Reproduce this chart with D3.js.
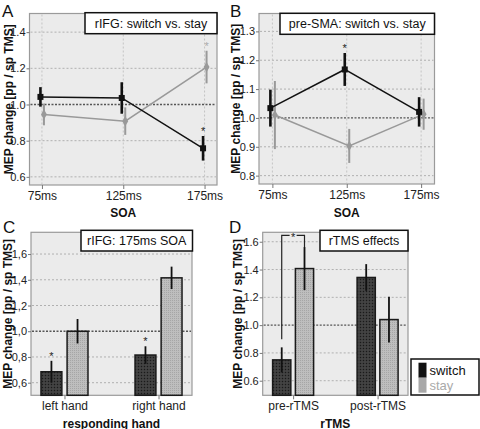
<!DOCTYPE html>
<html><head><meta charset="utf-8">
<script src="https://cdn.jsdelivr.net/npm/d3@7"></script>
<style>body{margin:0;background:#fff}svg{display:block;font-family:"Liberation Sans",Arial,sans-serif}</style>
</head><body><svg id="c" width="480" height="429"></svg>
<script>
// ---- data ----
const soaCats = ["75ms","125ms","175ms"];
const aSwitch = [1.042,1.036,0.758];
const aSwitchErr = [0.054,0.087,0.068];
const aStay = [0.945,0.908,1.207];
const aStayErr = [0.060,0.076,0.090];
const aTicks = [0.6,0.8,1.0,1.2,1.4];
const bSwitch = [1.034,1.168,1.021];
const bSwitchErr = [0.064,0.057,0.051];
const bStay = [1.010,0.903,1.013];
const bStayErr = [0.118,0.059,0.054];
const bTicks = [0.8,0.9,1.0,1.1,1.2,1.3];
const handCats = ["left hand","right hand"];
const cSwitch = [0.685,0.815];
const cSwitchErr = [0.085,0.068];
const cStay = [1.0,1.415];
const cStayErr = [0.095,0.087];
const cTicks = [0.6,0.8,1.0,1.2,1.4,1.6];
const rtmsCats = ["pre-rTMS","post-rTMS"];
const dSwitch = [0.75,1.343];
const dSwitchErr = [0.09,0.096];
const dStay = [1.407,1.04];
const dStayErr = [0.155,0.165];
const dTicks = [0.6,0.8,1.0,1.2,1.4,1.6];
const seriesNames = ["switch","stay"];
const yTitle = "MEP change [pp / sp TMS]";

const svg = d3.select("#c");
const FONT = "'Liberation Sans', Arial, sans-serif";
const BG = "#ebebeb", BORDER = "#9a9a9a", DARK = "#111", GRAY = "#999";

// patterns
const defs = svg.append("defs");
const pd = defs.append("pattern").attr("id","pSwitch").attr("width",3).attr("height",3).attr("patternUnits","userSpaceOnUse");
pd.append("rect").attr("width",3).attr("height",3).attr("fill","#3c3c3c");
pd.append("rect").attr("width",1).attr("height",1).attr("fill","#1a1a1a");
pd.append("rect").attr("x",1.5).attr("y",1.5).attr("width",1).attr("height",1).attr("fill","#555");
const ps = defs.append("pattern").attr("id","pStay").attr("width",2).attr("height",2).attr("patternUnits","userSpaceOnUse");
ps.append("rect").attr("width",2).attr("height",2).attr("fill","#bebebe");
ps.append("rect").attr("width",1).attr("height",1).attr("fill","#a6a6a6");

function frame(g, cfg, y) {
  g.append("rect").attr("x",cfg.x0).attr("y",cfg.y0).attr("width",cfg.x1-cfg.x0).attr("height",cfg.y1-cfg.y0)
    .attr("fill",BG).attr("stroke",BORDER).attr("stroke-width",1.2);
  g.selectAll(".hg").data(cfg.ticks).join("line")
    .attr("x1",cfg.x0+1).attr("x2",cfg.x1-1).attr("y1",d=>y(d)).attr("y2",d=>y(d))
    .attr("stroke",d=>Math.abs(d-1)<1e-9?"#555":"#b0b0b0")
    .attr("stroke-width",d=>Math.abs(d-1)<1e-9?1.3:1)
    .attr("stroke-dasharray",d=>Math.abs(d-1)<1e-9?"2,1.5":"2,2");
  const ax = d3.axisLeft(y).tickValues(cfg.ticks).tickSize(3).tickPadding(1).tickFormat(cfg.fmt);
  const ga = g.append("g").attr("transform",`translate(${cfg.x0},0)`).call(ax);
  ga.select(".domain").remove();
  ga.selectAll(".tick line").attr("stroke","#777");
  ga.selectAll("text").attr("font-size",11).attr("fill","#222").attr("font-family",FONT);
  g.append("text").attr("transform",`translate(${cfg.tx},${(cfg.y0+cfg.y1)/2}) rotate(-90)`)
    .attr("text-anchor","middle").attr("font-weight","bold").attr("font-size",12).attr("fill","#111").text(yTitle);
  g.append("text").attr("x",cfg.lx).attr("y",cfg.ly).attr("font-size",17).attr("fill","#111").text(cfg.letter);
}
function xAxis(g, cfg, x) {
  const ax = d3.axisBottom(x).tickSize(4).tickPadding(2);
  const ga = g.append("g").attr("transform",`translate(0,${cfg.y1})`).call(ax);
  ga.select(".domain").remove();
  ga.selectAll(".tick line").attr("stroke","#777");
  ga.selectAll("text").attr("font-size",cfg.xfs).attr("fill","#222").attr("font-family",FONT);
  g.append("text").attr("x",(cfg.x0+cfg.x1)/2).attr("y",cfg.xty).attr("text-anchor","middle")
    .attr("font-weight","bold").attr("font-size",12).attr("fill","#111").text(cfg.xTitle);
}
function titleBox(g, b) {
  g.append("rect").attr("x",b[0]).attr("y",b[1]).attr("width",b[2]-b[0]).attr("height",b[3]-b[1])
    .attr("fill","#fff").attr("stroke","#111").attr("stroke-width",1.5);
  g.append("text").attr("x",(b[0]+b[2])/2).attr("y",(b[1]+b[3])/2+4.5).attr("text-anchor","middle")
    .attr("font-size",12.5).attr("fill","#111").text(b[4]);
}

function linePanel(cfg) {
  const g = svg.append("g");
  const y = d3.scaleLinear().domain(cfg.domain).range([cfg.y1,cfg.y0]);
  const x = d3.scalePoint().domain(cfg.cats).range([cfg.x0,cfg.x1]).padding(cfg.pad);
  frame(g,cfg,y);
  g.selectAll(".vg").data(cfg.cats).join("line").attr("x1",d=>x(d)).attr("x2",d=>x(d))
    .attr("y1",cfg.y0+1).attr("y2",cfg.y1-1).attr("stroke","#c4c4c4").attr("stroke-dasharray","2,2");
  const series = [
    {v:cfg.st, e:cfg.stE, dx:cfg.dSt, c:GRAY, w:1.5, ew:2},
    {v:cfg.sw, e:cfg.swE, dx:cfg.dSw, c:DARK, w:1.5, ew:2.6}
  ];
  series.forEach(s=>{
    const pts = cfg.cats.map((c,i)=>[x(c)+s.dx, y(s.v[i])]);
    g.append("path").attr("d",d3.line()(pts)).attr("fill","none").attr("stroke",s.c).attr("stroke-width",s.w);
    g.selectAll(null).data(cfg.cats).join("line")
      .attr("x1",(c)=>x(c)+s.dx).attr("x2",(c)=>x(c)+s.dx)
      .attr("y1",(c,i)=>y(s.v[i]-s.e[i])).attr("y2",(c,i)=>y(s.v[i]+s.e[i]))
      .attr("stroke",s.c).attr("stroke-width",s.ew);
  });
  g.selectAll(null).data(cfg.cats).join("path")
    .attr("transform",(c,i)=>`translate(${x(c)+cfg.dSt},${y(cfg.st[i])})`)
    .attr("d",d3.symbol(d3.symbolDiamond,30)).attr("fill",GRAY);
  g.selectAll(null).data(cfg.cats).join("rect")
    .attr("x",(c)=>x(c)+cfg.dSw-3).attr("y",(c,i)=>y(cfg.sw[i])-3).attr("width",6).attr("height",6).attr("fill",DARK);
  cfg.stars.forEach(s=>{
    const v = s.series==="switch"?cfg.sw:cfg.st, e = s.series==="switch"?cfg.swE:cfg.stE;
    const dx = s.series==="switch"?cfg.dSw:cfg.dSt;
    g.append("text").attr("x",x(cfg.cats[s.i])+dx).attr("y",y(v[s.i]+e[s.i])-1).attr("text-anchor","middle")
      .attr("font-size",11).attr("fill",s.series==="switch"?"#222":"#aaa").text("*");
  });
  xAxis(g,cfg,x);
  titleBox(g,cfg.box);
}

function barPanel(cfg) {
  const g = svg.append("g");
  const y = d3.scaleLinear().domain(cfg.domain).range([cfg.y1,cfg.y0]);
  const x = d3.scalePoint().domain(cfg.cats).range([cfg.x0,cfg.x1]).padding(cfg.pad);
  const xi = d3.scaleBand().domain(seriesNames).range([-cfg.half,cfg.half]).paddingInner(0.2);
  frame(g,cfg,y);
  const data = [];
  cfg.cats.forEach((c,i)=>{
    data.push({c, s:"switch", v:cfg.sw[i], e:cfg.swE[i], i});
    data.push({c, s:"stay", v:cfg.st[i], e:cfg.stE[i], i});
  });
  g.selectAll(null).data(data).join("rect")
    .attr("x",d=>x(d.c)+xi(d.s)).attr("width",xi.bandwidth())
    .attr("y",d=>y(d.v)).attr("height",d=>cfg.y1-y(d.v))
    .attr("fill",d=>d.s==="switch"?"url(#pSwitch)":"url(#pStay)")
    .attr("stroke","#1a1a1a").attr("stroke-width",1.5);
  g.selectAll(null).data(data).join("line")
    .attr("x1",d=>x(d.c)+xi(d.s)+xi.bandwidth()/2).attr("x2",d=>x(d.c)+xi(d.s)+xi.bandwidth()/2)
    .attr("y1",d=>y(d.v-d.e)).attr("y2",d=>y(d.v+d.e)).attr("stroke","#111").attr("stroke-width",1.8);
  (cfg.stars||[]).forEach(i=>{
    g.append("text").attr("x",x(cfg.cats[i])+xi("switch")+xi.bandwidth()/2)
      .attr("y",y(cfg.sw[i]+cfg.swE[i])-1).attr("text-anchor","middle").attr("font-size",11).attr("fill","#222").text("*");
  });
  if (cfg.bracket) {
    const xa = x(cfg.cats[0])+xi("switch")+xi.bandwidth()/2;
    const xb = x(cfg.cats[0])+xi("stay")+xi.bandwidth()/2;
    const yt = cfg.y0+3;
    const yl = y(cfg.sw[0]+cfg.swE[0])-8;
    const yr = y(cfg.st[0]+cfg.stE[0]);
    const xm = (xa+xb)/2;
    g.append("path").attr("d",`M${xa},${yl}V${yt}H${xm-3.5}M${xm+3.5},${yt}H${xb}V${yr}`)
      .attr("fill","none").attr("stroke","#222").attr("stroke-width",1.2);
    g.append("text").attr("x",xm).attr("y",yt+6).attr("text-anchor","middle").attr("font-size",11).attr("fill","#222").text("*");
  }
  xAxis(g,cfg,x);
  titleBox(g,cfg.box);
  return g;
}

linePanel({x0:29.5,x1:217,y0:13.5,y1:185,domain:[0.555,1.503],ticks:aTicks,fmt:d3.format(".1f"),
  cats:soaCats,pad:0.153,sw:aSwitch,swE:aSwitchErr,st:aStay,stE:aStayErr,dSw:-1.5,dSt:2,
  stars:[{series:"switch",i:2},{series:"stay",i:2}],tx:12.5,lx:2,ly:17,letter:"A",
  xfs:12,xty:217,xTitle:"SOA",box:[85,12.7,217,33.7,"rIFG: switch vs. stay"]});
linePanel({x0:259,x1:434.5,y0:13.5,y1:184,domain:[0.771,1.362],ticks:bTicks,fmt:d3.format(".1f"),
  cats:soaCats,pad:0.18,sw:bSwitch,swE:bSwitchErr,st:bStay,stE:bStayErr,dSw:-2,dSt:2.5,
  stars:[{series:"switch",i:1}],tx:240,lx:230,ly:17,letter:"B",
  xfs:12,xty:217,xTitle:"SOA",box:[280,13.3,434.5,34.3,"pre-SMA: switch vs. stay"]});
barPanel({x0:31,x1:192,y0:232.3,y1:395.3,domain:[0.502,1.769],ticks:cTicks,fmt:d=>d3.format(".1f")(d).replace(".",","),
  cats:handCats,pad:0.356,half:23.5,sw:cSwitch,swE:cSwitchErr,st:cStay,stE:cStayErr,stars:[0,1],
  tx:12,lx:3,ly:233,letter:"C",xfs:12,xty:427.5,xTitle:"responding hand",box:[81,230.3,192.5,251,"rIFG: 175ms SOA"]});
barPanel({x0:262.7,x1:408,y0:232.3,y1:395.3,domain:[0.495,1.668],ticks:dTicks,fmt:d3.format(".1f"),
  cats:rtmsCats,pad:0.36,half:20.5,sw:dSwitch,swE:dSwitchErr,st:dStay,stE:dStayErr,stars:[],bracket:true,
  tx:241.5,lx:229,ly:233,letter:"D",xfs:12,xty:427.5,xTitle:"rTMS",box:[320,230.3,408,251,"rTMS effects"]});

// legend
const lg = svg.append("g");
lg.append("rect").attr("x",411).attr("y",359).attr("width",68).attr("height",36).attr("fill","#fff").attr("stroke","#111").attr("stroke-width",1.5);
const lgColors = ["#111","#a8a8a8"];
seriesNames.forEach((s,i)=>{
  lg.append("rect").attr("x",418.5).attr("y",362.7+i*15).attr("width",8).attr("height",15).attr("fill",lgColors[i]);
  lg.append("text").attr("x",429.5).attr("y",374.5+i*15).attr("font-size",13).attr("fill",i?"#aaa":"#111").text(s);
});
</script></body></html>
